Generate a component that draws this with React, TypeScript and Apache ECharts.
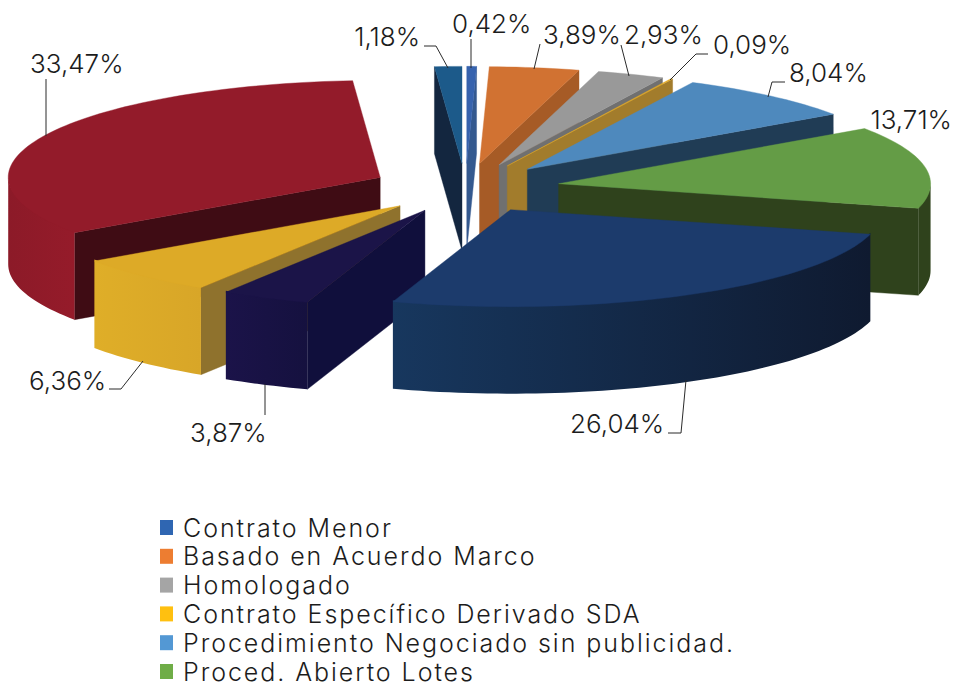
import React, { useEffect, useRef } from "react";
import * as echarts from "echarts";

const sliceNames = [
  "Contrato Menor",
  "Basado en Acuerdo Marco",
  "Homologado",
  "Contrato Específico Derivado SDA",
  "Procedimiento Negociado sin publicidad.",
  "Proced. Abierto Lotes",
  "Serie 7",
  "Serie 8",
  "Serie 9",
  "Serie 10",
  "Serie 11",
];
const legendNames = sliceNames.slice(0, 6);
const sliceValues = [0.42, 3.89, 2.93, 0.09, 8.04, 13.71, 26.04, 3.87, 6.36, 33.47, 1.18];
const legendColors = ["#2F66B2", "#ED7D31", "#A5A5A5", "#FFC010", "#5398D4", "#6FAD47", "#1C3B6C", "#1B1448", "#DDAA27", "#931B2A", "#1C5A8A"];
const topColors = ["#3763AE", "#D17232", "#999999", "#E0A828", "#4E89BD", "#649C46", "#1C3B6C", "#1B1448", "#DDAA27", "#931B2A", "#1C5A8A"];
const wallColors = ["#34598F", "#A65B26", "#707070", "#A27C2C", "#203C55", "#2F421C", "#0F1A30", "#100F3C", "#8F722D", "#3F0C14", "#13263F"];
const rimLeft = ["#34598F", "#A65B26", "#707070", "#A27C2C", "#203C55", "#2F421C", "#17375E", "#1B1349", "#DFAE28", "#8C1A28", "#13263F"];
const rimRight = ["#34598F", "#A65B26", "#707070", "#A27C2C", "#203C55", "#2F421C", "#0F1A30", "#15113F", "#D8A628", "#951B2A", "#13263F"];
// Slices from the back of the pie to the front (the reference's overlaps).
const paintOrder = [10, 0, 1, 2, 3, 4, 9, 5, 8, 7, 6];

// Pie projection
const CX = 465.5;
const CY = 188;
const RX = 372;
const RY = 97;
const DEPTH = 87;
const EXPLODE = 94.5;

type Pt = [number, number];
const FAMILY = 'Inter, "Noto Sans", sans-serif';
const FONT = `300 26px ${FAMILY}`;
const INK = "#1c1c1c";
const LINE = "#2b2b2b";

const total = sliceValues.reduce((a, b) => a + b, 0);
const rad = (d: number) => (d * Math.PI) / 180;
const spans = sliceValues.reduce<[number, number][]>((acc, v) => {
  const start = acc.length ? acc[acc.length - 1][1] : 0;
  acc.push([start, start + (v / total) * 360]);
  return acc;
}, []);

function renderSlice(i: number) {
  const [a0, a1] = spans[i];
  const mid = rad((a0 + a1) / 2);
  const ax = CX + EXPLODE * Math.sin(mid);
  const ay = CY - EXPLODE * (RY / RX) * Math.cos(mid);
  const rim = (deg: number, drop = 0): Pt => [
    ax + RX * Math.sin(rad(deg)),
    ay - RY * Math.cos(rad(deg)) + drop,
  ];
  const arc = (from: number, to: number, drop = 0): Pt[] => {
    const n = Math.max(2, Math.ceil(Math.abs(to - from) / 1.5));
    return Array.from({ length: n + 1 }, (_, k) => rim(from + ((to - from) * k) / n, drop));
  };
  const children: any[] = [];
  const wall = (deg: number) => {
    const p = rim(deg);
    const q = rim(deg, DEPTH);
    children.push({
      type: "polygon",
      shape: { points: [[ax, ay], p, q, [ax, ay + DEPTH]] },
      style: { fill: wallColors[i], stroke: wallColors[i], lineWidth: 0.4 },
    });
  };
  if (Math.sin(rad(a0)) < -1e-6) wall(a0);
  if (Math.sin(rad(a1)) > 1e-6) wall(a1);
  const f0 = Math.max(a0, 90);
  const f1 = Math.min(a1, 270);
  if (f1 > f0) {
    children.push({
      type: "polygon",
      // The upper edge runs under the top face so no light seam shows.
      shape: { points: [...arc(f0, f1, -1.5), ...arc(f1, f0, DEPTH)] },
      style: {
        fill: new echarts.graphic.LinearGradient(0, 0, 1, 0, [
          { offset: 0, color: rimLeft[i] },
          { offset: 1, color: rimRight[i] },
        ]),
      },
    });
  }
  children.push({
    type: "polygon",
    shape: { points: [[ax, ay], ...arc(a0, a1)] },
    style: { fill: topColors[i], stroke: topColors[i], lineWidth: 0.4 },
  });
  return { type: "group", children };
}

// Data-label placement: slice index, text anchor, text middle, leader line.
const labelPlaces: { i: number; x: number; y: number; align?: string; leader?: Pt[] }[] = [
  { i: 9, x: 30, y: 63, leader: [[46, 79], [46, 136]] },
  { i: 10, x: 420, y: 36.5, align: "right", leader: [[424, 46], [436, 46], [448, 68]] },
  { i: 0, x: 452, y: 23.5, leader: [[471, 39], [471, 68]] },
  { i: 1, x: 543, y: 34.5, leader: [[540, 44], [534, 69]] },
  { i: 2, x: 624, y: 34.5, leader: [[621, 45], [629, 76]] },
  { i: 3, x: 713, y: 44.5, leader: [[708, 54], [696, 54], [670, 80]] },
  { i: 4, x: 789, y: 72.5, leader: [[785, 82], [772, 82], [768, 97]] },
  { i: 5, x: 952, y: 119, align: "right" },
  { i: 6, x: 570, y: 423, leader: [[668, 433], [681, 433], [686, 380]] },
  { i: 7, x: 190, y: 432, leader: [[265, 384], [265, 415]] },
  { i: 8, x: 29, y: 380, leader: [[109, 389], [121, 389], [143, 361]] },
];
const formatPct = (v: number) => v.toFixed(2).replace(".", ",") + "%";

export default function App() {
  const ref = useRef<HTMLDivElement>(null);
  useEffect(() => {
    const chart = echarts.init(ref.current!, undefined, { renderer: "svg" });
    const graphic: any[] = [];
    labelPlaces.forEach((l) => {
      graphic.push({
        type: "text",
        z: 100,
        x: l.x,
        y: l.y,
        style: {
          text: formatPct(sliceValues[l.i]),
          font: FONT,
          fill: INK,
          textAlign: l.align || "left",
          textVerticalAlign: "middle",
        },
      });
      if (l.leader) {
        graphic.push({
          type: "polyline",
          z: 100,
          shape: { points: l.leader },
          style: { stroke: LINE, lineWidth: 1, fill: "none" },
        });
      }
    });
    chart.setOption({
      animation: false,
      backgroundColor: "#ffffff",
      legend: {
        data: legendNames,
        orient: "vertical",
        left: 160,
        top: 515,
        height: 300,
        padding: 0,
        icon: "rect",
        itemWidth: 13,
        itemHeight: 15,
        itemGap: 3.8,
        selectedMode: false,
        textStyle: {
          fontFamily: FAMILY,
          fontWeight: 300,
          fontSize: 25,
          color: INK,
          padding: [0, 0, 0, 5],
        },
      },
      graphic,
      series: sliceNames.map((name, i) => ({
        type: "custom",
        name,
        coordinateSystem: "none",
        silent: true,
        z: 2 + paintOrder.indexOf(i),
        itemStyle: { color: legendColors[i] },
        data: [sliceValues[i]],
        renderItem: () => renderSlice(i),
      })),
    });
    return () => chart.dispose();
  }, []);
  return (
    <>
      <style>{`svg text[style*="25px"]{letter-spacing:1.95px}`}</style>
      <div ref={ref} style={{ position: "fixed", left: 0, top: 0, width: 954, height: 684 }} />
    </>
  );
}
